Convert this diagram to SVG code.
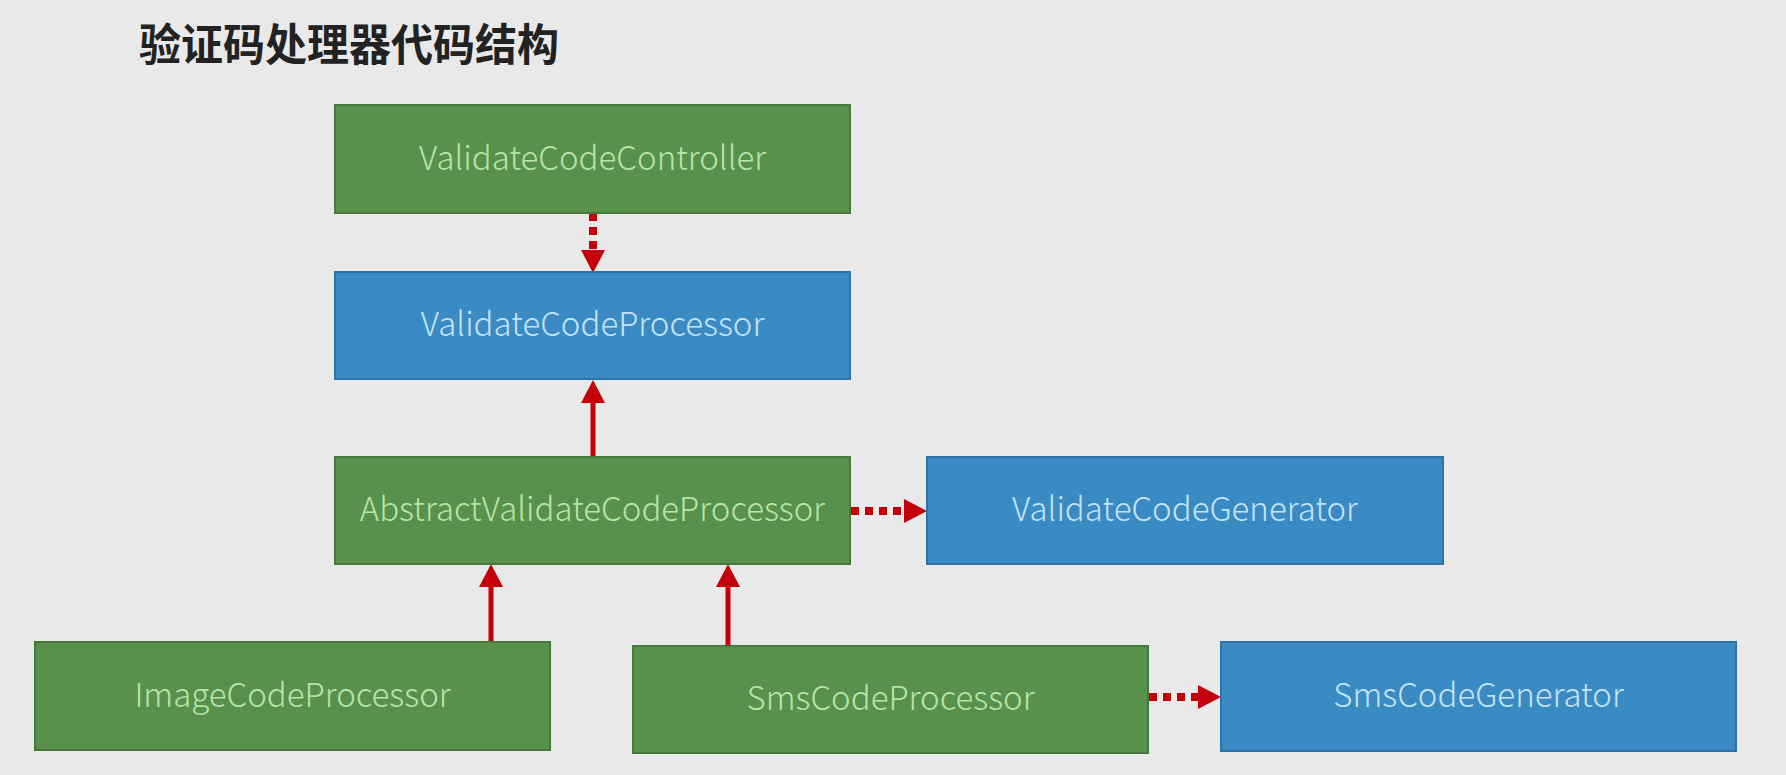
<svg xmlns="http://www.w3.org/2000/svg" width="1786" height="775" viewBox="0 0 1786 775">
<style>
.bg{fill:#e9e9e9}
.g{fill:#58914b;stroke:#457a3a;stroke-width:2}
.b{fill:#3a8ac3;stroke:#2f73a6;stroke-width:2}
.t{font-family:"Noto Sans CJK SC","Liberation Sans",sans-serif;font-weight:300;font-size:33px;text-anchor:middle}
.tg{fill:#b8e4a8}
.tb{fill:#c4e4f6}
.title{font-family:"Noto Sans CJK SC",sans-serif;font-weight:700;font-size:44px;fill:#222}
.c{stroke:#c4000b;fill:none}
.dot{stroke-width:8;stroke-dasharray:8 6}
.sol{stroke-width:5}
</style>
<defs>
<marker id="ah" markerUnits="userSpaceOnUse" viewBox="0 -12 24 24" markerWidth="24" markerHeight="24" refX="0" refY="0" orient="auto" overflow="visible">
<path d="M0,-12 L23,0 L0,12 z" fill="#c4000b"/>
</marker>
</defs>
<rect class="bg" x="0" y="0" width="1786" height="775"/>
<text class="title" x="139" y="61" textLength="420" lengthAdjust="spacingAndGlyphs">验证码处理器代码结构</text>
<g id="connectors">
<path class="c dot" d="M593,213 V250" marker-end="url(#ah)"/>
<path class="c sol" d="M593,457 V403" marker-end="url(#ah)"/>
<path class="c sol" d="M491,642 V587" marker-end="url(#ah)"/>
<path class="c sol" d="M728,646 V587" marker-end="url(#ah)"/>
<path class="c dot" d="M851,511 H904" marker-end="url(#ah)"/>
<path class="c dot" d="M1149,697 H1198" marker-end="url(#ah)"/>
</g>
<g id="ValidateCodeController">
<rect class="g" x="335" y="105" width="515" height="108"/>
<text class="t tg" x="592.5" y="170">ValidateCodeController</text>
</g>
<g id="ValidateCodeProcessor">
<rect class="b" x="335" y="272" width="515" height="107"/>
<text class="t tb" x="592.5" y="336">ValidateCodeProcessor</text>
</g>
<g id="AbstractValidateCodeProcessor">
<rect class="g" x="335" y="457" width="515" height="107"/>
<text class="t tg" x="592.5" y="521">AbstractValidateCodeProcessor</text>
</g>
<g id="ValidateCodeGenerator">
<rect class="b" x="927" y="457" width="516" height="107"/>
<text class="t tb" x="1185" y="521">ValidateCodeGenerator</text>
</g>
<g id="ImageCodeProcessor">
<rect class="g" x="35" y="642" width="515" height="108"/>
<text class="t tg" x="292.5" y="707">ImageCodeProcessor</text>
</g>
<g id="SmsCodeProcessor">
<rect class="g" x="633" y="646" width="515" height="107"/>
<text class="t tg" x="890.5" y="710">SmsCodeProcessor</text>
</g>
<g id="SmsCodeGenerator">
<rect class="b" x="1221" y="642" width="515" height="109"/>
<text class="t tb" x="1478.5" y="707">SmsCodeGenerator</text>
</g>
</svg>
